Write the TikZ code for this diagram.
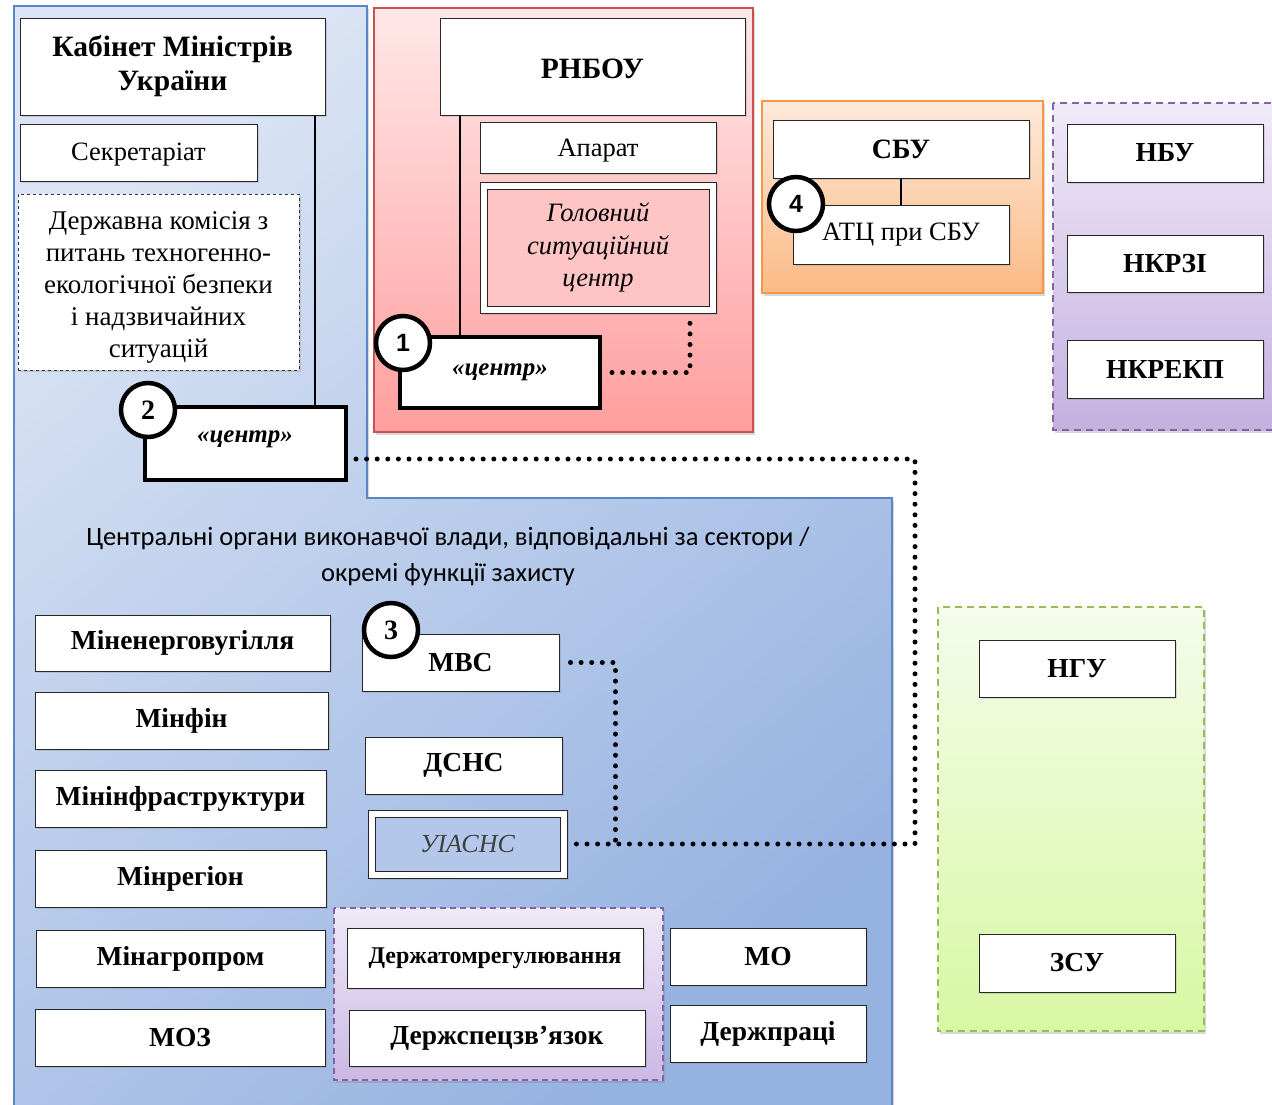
\documentclass[tikz,border=0pt]{standalone}
\usepackage{fontspec}
\setmainfont{Liberation Serif}
\newfontfamily\sansf{Carlito}
\newfontfamily\arialf{Liberation Sans}
\usetikzlibrary{shadows,calc}
\definecolor{bluebd}{HTML}{5B86C5}
\definecolor{redbd}{HTML}{C9504D}
\definecolor{orbd}{HTML}{F79646}
\definecolor{purbd}{HTML}{8064A2}
\definecolor{grbd}{HTML}{9BBB59}
\begin{document}
\begin{tikzpicture}[x=1pt,y=-1pt,
  bx/.style={draw=black!85, line width=1pt, fill=white, inner sep=0pt, align=center,
    drop shadow={opacity=0.25, shadow xshift=1.5pt, shadow yshift=-1.5pt}},
  bb/.style={bx, font=\bfseries\fontsize{27.5}{30}\selectfont},
  br/.style={bx, font=\fontsize{26.5}{32}\selectfont},
  rtext/.style={font=\fontsize{26.5}{32}\selectfont, align=center, inner sep=0pt},
  thickbox/.style={draw=black, line width=4pt, fill=white, inner sep=0pt},
  ctext/.style={font=\bfseries\itshape\fontsize{25}{30}\selectfont},
  badge/.style={circle, draw=black, line width=4.5pt, fill=white, minimum size=54pt, inner sep=0pt,
    font=\bfseries\fontsize{28}{28}\selectfont},
  dotl/.style={line width=5pt, dash pattern=on 0pt off 10.6pt, line cap=round},
  conn/.style={line width=1.3pt, draw=black},
  region/.style={drop shadow={opacity=0.3, shadow xshift=2pt, shadow yshift=-3pt}}]
\useasboundingbox (0,0) rectangle (1272,1104);
\fill[white] (0,0) rectangle (1272,1104);

% ---------- regions ----------
\path[region, draw=bluebd, line width=1.2pt, top color={rgb,255:red,218;green,228;blue,244},
  bottom color={rgb,255:red,150;green,178;blue,225}, shading angle=40]
  (14,6) -- (367,6) -- (367,498) -- (892,498) -- (892,1112) -- (14,1112) -- cycle;
\path[region, draw=redbd, line width=1.2pt, top color={rgb,255:red,255;green,232;blue,232},
  bottom color={rgb,255:red,255;green,158;blue,158}]
  (374,8) rectangle (753,432);
\path[region, draw=orbd, line width=2pt, top color={rgb,255:red,253;green,234;blue,218},
  bottom color={rgb,255:red,251;green,186;blue,134}]
  (762,101) rectangle (1043,293);
\path[region, draw=purbd, line width=1.5pt, dash pattern=on 7pt off 5pt,
  top color={rgb,255:red,240;green,234;blue,248}, bottom color={rgb,255:red,196;green,176;blue,224}]
  (1053,103) rectangle (1285,430);
\path[region, draw=grbd, line width=1.5pt, dash pattern=on 7pt off 5pt,
  top color={rgb,255:red,245;green,252;blue,235}, bottom color={rgb,255:red,215;green,248;blue,163}]
  (938,607) rectangle (1204,1031);
\path[region, draw=purbd, line width=1.5pt, dash pattern=on 6pt off 4pt,
  top color={rgb,255:red,239;green,233;blue,247}, bottom color={rgb,255:red,204;green,184;blue,228}]
  (334,908) rectangle (663,1080);

% ---------- Cabinet of Ministers ----------
\node[bb, minimum width=305pt, minimum height=97pt, font=\bfseries\fontsize{29.5}{34}\selectfont] (cab) at (172.5,66.5) {Кабінет Міністрів\\України};
\node[bx, minimum width=237pt, minimum height=57pt] (sec) at (138.5,152.5) {};
\node[rtext] (sect) at (138.5,155) {Секретаріат};
\node[bx, dashed, draw=black!80, minimum width=281pt, minimum height=176pt] (kom) at (158.5,282) {};
\node[rtext, font=\fontsize{27}{32}\selectfont] (komt) at (158.5,287.5)
  {Державна комісія з\\питань техногенно-\\екологічної безпеки\\і надзвичайних\\ситуацій};
\node[thickbox, minimum width=201pt, minimum height=73pt] (c2) at (245.5,443.5) {};
\node[ctext] (c2t) at (245,439) {«центр»};
\draw[conn] ([xshift=142.5pt]cab.south) -- ([xshift=142.5pt]cab.south |- c2.north);
\node[badge] (b2) at (148,410) {2};

% ---------- RNBO ----------
\node[bx, minimum width=305pt, minimum height=97pt] (rnbo) at (592.5,66.5) {};
\node[font=\bfseries\fontsize{29.5}{34}\selectfont, inner sep=0pt] (rnbot) at (592.5,68.5) {РНБОУ};
\node[bx, minimum width=236pt, minimum height=51pt] (apar) at (598,147.5) {};
\node[rtext] (apart) at (598,151) {Апарат};
\node[bx, minimum width=236pt, minimum height=131pt] (gsco) at (598,247.5) {};
\node[draw=black!85, line width=1pt, fill={rgb,255:red,255;green,196;blue,196}, minimum width=222pt,
  minimum height=117pt, inner sep=0pt, align=center, font=\itshape\fontsize{26.5}{32.5}\selectfont] (gsc) at (598,247.5)
  {Головний\\ситуаційний\\центр};
\node[thickbox, minimum width=200pt, minimum height=71pt] (c1) at (500,372.5) {};
\node[ctext] (c1t) at (500,372) {«центр»};
\draw[conn] ([xshift=-132.5pt]rnbo.south) -- ([xshift=-132.5pt]rnbo.south |- c1.north);
\draw[dotl] ([xshift=10pt]c1.east) -| ([xshift=92pt,yshift=-6pt]gsco.south);
\node[badge, font=\arialf\bfseries\fontsize{25}{25}\selectfont] (b1) at (403,343) {1};

% ---------- SBU ----------
\node[bb, minimum width=256pt, minimum height=58pt, font=\bfseries\fontsize{28}{30}\selectfont] (sbu) at (901,149) {СБУ};
\node[br, minimum width=216pt, minimum height=59pt] (atc) at (901,234.5) {АТЦ при СБУ};
\draw[conn] (sbu.south) -- (atc.north);
\node[badge, font=\arialf\bfseries\fontsize{25}{25}\selectfont] (b4) at (796,204) {4};

% ---------- NBU etc ----------
\node[bb, minimum width=196pt, minimum height=58pt] (nbu) at (1165,153) {НБУ};
\node[bb, minimum width=196pt, minimum height=57pt] (nkrzi) at (1165,263.5) {НКРЗІ};
\node[bb, minimum width=196pt, minimum height=58pt] (nkrekp) at (1165,369) {НКРЕКП};

% ---------- central executive bodies ----------
\node[font=\sansf\fontsize{26.5}{36}\selectfont, align=center] (title) at (448,556)
  {Центральні органи виконавчої влади, відповідальні за сектори /\\окремі функції захисту};
\node[bb, minimum width=295pt, minimum height=56pt] (m1) at (182.5,643) {Міненерговугілля};
\node[bb, minimum width=293pt, minimum height=57pt] (m2) at (181.5,720.5) {Мінфін};
\node[bb, minimum width=291pt, minimum height=57pt] (m3) at (180.5,798.5) {Мінінфраструктури};
\node[bb, minimum width=291pt, minimum height=57pt] (m4) at (180.5,878.5) {Мінрегіон};
\node[bb, minimum width=289pt, minimum height=57pt] (m5) at (180.5,958.5) {Мінагропром};
\node[bb, minimum width=290pt, minimum height=57pt] (m6) at (180,1037.5) {МОЗ};
\node[bb, minimum width=197pt, minimum height=57pt] (mvs) at (460.5,662.5) {МВС};
\node[bb, minimum width=197pt, minimum height=57pt] (dsns) at (463.5,765.5) {ДСНС};
\node[bx, minimum width=199pt, minimum height=68pt] (uias) at (467.5,844) {};
\node[draw=black!85, line width=1pt, fill={rgb,255:red,178;green,199;blue,234}, minimum width=185pt,
  minimum height=54pt, inner sep=0pt, font=\itshape\fontsize{26}{30}\selectfont, text=black!75] (uiasi) at (467.5,844) {УІАСНС};
\node[bb, minimum width=296pt, minimum height=60pt, font=\bfseries\fontsize{24}{26}\selectfont] (datom) at (495,958) {Держатомрегулювання};
\node[bb, minimum width=296pt, minimum height=56pt] (dspec) at (497,1038) {Держспецзв’язок};
\node[bb, minimum width=196pt, minimum height=57pt] (mo) at (768,956.5) {МО};
\node[bb, minimum width=196pt, minimum height=57pt] (dprac) at (768,1033.5) {Держпраці};
\node[badge] (b3) at (391,630) {3};

% ---------- NGU / ZSU ----------
\node[bb, minimum width=196pt, minimum height=57pt] (ngu) at (1077,668.5) {НГУ};
\node[bb, minimum width=196pt, minimum height=58pt] (zsu) at (1077,963) {ЗСУ};

% ---------- dotted connectors ----------
\coordinate (k) at (915,459);
\draw[dotl] ([xshift=8pt,yshift=-15.5pt]c2.east) -- (k) |- ([xshift=4pt]uias.east);
\draw[dotl] ([xshift=11pt]mvs.east) -| ([xshift=48pt]uias.east);
\end{tikzpicture}
\end{document}
